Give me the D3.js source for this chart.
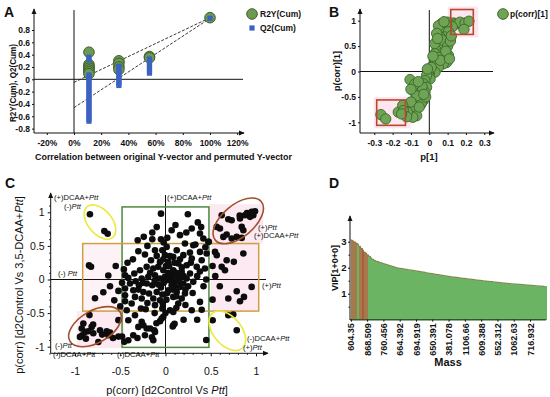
<!DOCTYPE html>
<html><head><meta charset="utf-8">
<script src="https://cdn.jsdelivr.net/npm/d3@7"></script>
<style>body{margin:0;background:#fff}svg{display:block}text{font-family:"Liberation Sans",Arial,sans-serif}</style>
</head><body><svg id="c" width="550" height="397"></svg>
<script>
// ---------------- DATA ----------------
// Panel A: permutation test
const aXTicks = [-0.2,0,0.2,0.4,0.6,0.8,1.0,1.2];
const aXTickLabels = ["-20%","0%","20%","40%","60%","80%","100%","120%"];
const aYTicks = [-0.8,-0.6,-0.4,-0.2,0,0.2,0.4,0.6,0.8];
const aYTickLabels = ["-0.8","-0.6","-0.4","-0.2","0","0.2","0.4","0.6","0.8"];
const r2yPts = [[0.11,0.44],[0.11,0.24],[0.11,0.21],[0.11,0.18],[0.11,0.15],[0.11,0.12],[0.11,0.09],
  [0.33,0.30],[0.33,0.26],[0.33,0.20],[0.33,0.16],[0.555,0.37],[0.555,0.35],[1.0,1.0]];
const q2Pts = [[0.11,0.36],[0.11,0.32],[0.11,0.07],[0.11,0.03],[0.11,-0.01],[0.11,-0.05],[0.11,-0.09],[0.11,-0.13],
  [0.11,-0.17],[0.11,-0.21],[0.11,-0.25],[0.11,-0.29],[0.11,-0.33],[0.11,-0.37],[0.11,-0.41],[0.11,-0.45],
  [0.11,-0.49],[0.11,-0.53],[0.11,-0.57],[0.11,-0.61],[0.11,-0.65],[0.11,-0.68],
  [0.33,0.21],[0.33,0.17],[0.33,0.13],[0.33,0.09],[0.33,0.05],[0.33,0.01],[0.33,-0.03],[0.33,-0.07],[0.33,-0.1],
  [0.555,0.33],[0.555,0.29],[0.555,0.25],[0.555,0.21],[0.555,0.17],[0.555,0.13],[0.555,0.10],[1.0,0.99]];
const r2yFit = [[0,-0.05],[1,1.0]];
const q2Fit = [[0,-0.46],[1,0.99]];

// Panel B: S-plot
const bXTicks = [-0.3,-0.2,-0.1,0,0.1,0.2,0.3];
const bXTickLabels = ["-0.3","-0.2","-0.1","0","0.1","0.2","0.3"];
const bYTicks = [-1,-0.5,0,0.5,1];
const bYTickLabels = ["-1","-0.5","0","0.5","1"];
const sPlot = [[0.113,0.91],[0.131,0.954],[0.149,0.94],[0.167,0.97],[0.195,0.954],[0.216,0.99],[0.189,0.83],[0.10,0.97],[0.125,0.88],
  [0.067,0.94],[0.058,0.84],[0.076,0.875],[0.095,0.91],[0.085,0.81],[0.067,0.78],[0.104,0.78],[0.085,0.68],[0.058,0.68],
  [0.058,0.58],[0.085,0.58],[0.076,0.48],[0.049,0.48],[0.04,0.41],[0.067,0.35],[0.031,0.35],[0.104,0.32],[0.049,0.28],
  [0.031,0.22],[0.095,0.18],[0.076,0.15],[0.022,0.12],[0.049,0.085],[0.013,0.02],[0.031,-0.013],[0.05,0.9],[0.04,0.75],
  [0.07,0.62],[0.03,0.55],[0.1,0.5],[0.09,0.4],[0.06,0.22],[0.02,0.3],[0.11,0.25],[0.08,0.98],[0.045,0.65],[0.115,0.6],[0.12,0.7],
  [0.0,-0.05],[-0.005,-0.01],[0.004,-0.145],[-0.015,-0.08],[-0.024,-0.18],[0.01,0.08],[-0.01,0.05],
  [-0.033,-0.24],[-0.064,-0.31],[-0.015,-0.31],[-0.051,-0.375],[-0.078,-0.41],[-0.024,-0.41],[-0.042,-0.44],[-0.06,-0.51],
  [-0.078,-0.57],[-0.033,-0.57],[-0.045,-0.64],[-0.096,-0.7],[-0.115,-0.7],[-0.087,-0.77],[-0.069,-0.87],[-0.105,-0.16],
  [-0.04,-0.3],[-0.07,-0.48],[-0.1,-0.6],[-0.02,-0.5],[-0.055,-0.7],[-0.09,-0.9],[-0.12,-0.8],[-0.03,-0.45],[-0.08,-0.25],
  [-0.06,-0.2],[-0.1,-0.35],
  [-0.264,-0.849],[-0.238,-0.934],[-0.169,-0.8],[-0.145,-0.67],[-0.142,-0.77],[-0.124,-0.89],[-0.151,-0.835]];
const bBoxes = [[[0.117,1.22],[0.24,0.73]],[[-0.287,-0.56],[-0.13,-1.06]]];

// Panel C: SUS-plot
const cTicks = [-1,-0.5,0,0.5,1];
const cTickLabels = ["-1","-0.5","0","0.5","1"];
const cMinor = [-1.2,-1.1,-0.9,-0.8,-0.7,-0.6,-0.4,-0.3,-0.2,-0.1,0.1,0.2,0.3,0.4,0.6,0.7,0.8,0.9,1.1];
const susPts = [[-0.835,0.97],[-0.676,0.72],[-0.639,0.68],
  [-0.845,0.21],[-0.823,0.19],[-0.55,0.20],[-0.632,0.06],[-0.613,-0.1],[-0.687,-0.19],[-0.52,-0.17],[-0.779,-0.28],[-0.566,-0.31],
  [-0.908,-0.655],[-0.926,-0.73],[-0.89,-0.78],[-0.919,-0.83],[-0.853,-0.77],[-0.816,-0.705],[-0.798,-0.8],[-0.724,-0.755],
  [-0.742,-0.93],[-0.65,-0.77],[-0.632,-0.83],[-0.613,-0.79],[-0.52,-0.605],[-0.945,-0.854],[-0.84,-0.53],[-0.8,-0.67],
  [-0.52,-0.85],[-0.58,-0.87],[-0.88,-0.88],[-0.7,-0.82],
  [-0.05,0.98],[-0.097,0.78],[-0.146,0.7],[-0.307,0.585],[-0.146,0.6],[-0.116,0.436],[-0.035,0.436],[-0.227,0.372],
  [-0.097,0.351],[-0.006,0.362],[-0.16,0.287],[-0.061,0.262],[-0.447,0.064],[-0.411,0.024],[-0.345,0.089],[-0.282,0.138],
  [-0.208,0.188],[-0.135,0.164],[-0.08,0.188],[-0.024,0.138],[-0.33,-0.025],[-0.263,0.015],[-0.19,0.039],[-0.116,0.064],
  [-0.061,0.015],[-0.006,0.039],[-0.392,-0.06],[-0.293,-0.085],[-0.208,-0.06],[-0.146,-0.085],[-0.08,-0.074],[-0.447,-0.134],
  [-0.356,-0.159],[-0.245,-0.185],[-0.182,-0.208],[-0.097,-0.185],[-0.035,-0.223],[-0.447,-0.234],[-0.337,-0.259],
  [-0.263,-0.283],[-0.135,-0.283],[-0.061,-0.308],[-0.447,-0.323],[-0.374,-0.357],[-0.271,-0.432],[-0.219,-0.442],
  [-0.116,-0.382],[-0.035,-0.432],[-0.429,-0.457],[-0.337,-0.531],[-0.411,-0.606],[-0.263,-0.631],[-0.208,-0.73],[-0.3,-0.705],
  [-0.356,-0.829],[-0.124,-0.755],[-0.227,-0.829],[-0.411,-0.903],[-0.455,-0.928],[-0.135,-0.903],[-0.024,-0.556],
  [-0.24,0.635],[-0.42,0.25],[-0.36,0.3],[-0.3,0.42],[-0.2,0.5],[-0.05,0.6],[-0.25,-0.05],[-0.17,0.1],[-0.12,-0.02],
  [-0.05,-0.12],[-0.3,-0.15],[-0.2,-0.35],[-0.12,-0.5],[-0.06,-0.62],[-0.1,-0.65],[-0.48,-0.05],[-0.46,0.15],[-0.5,-0.4],
  [-0.48,-0.85],[-0.31,-0.87],[-0.15,-0.86],[-0.245,-0.68],[-0.17,-0.73],[0.086,-0.68],[-0.116,-0.78],
  [0.068,0.734],[0.16,0.66],[0.29,0.76],[0.381,0.685],[0.418,0.61],[0.473,0.56],[0.215,0.536],[0.307,0.51],[0.013,0.485],
  [0.124,0.436],[0.381,0.411],[0.455,0.387],[-0.024,0.3],[0.086,0.336],[0.197,0.362],[0.29,0.312],[0.4,0.287],[0.031,0.262],
  [0.141,0.238],[0.234,0.213],[0.345,0.188],[0.436,0.164],[0.005,0.2],[0.086,0.138],[0.179,0.113],[0.271,0.089],[0.05,0.064],
  [0.141,0.039],[0.234,0.015],[0.013,-0.01],[0.105,-0.035],[0.197,-0.06],[0.307,-0.035],[0.068,-0.085],[0.16,-0.11],
  [0.031,-0.159],[0.124,-0.185],[0.215,-0.208],[0.086,-0.259],[0.179,-0.283],[0.01,-0.3],[0.381,-0.333],[0.141,-0.357],
  [-0.03,-0.36],[0.05,-0.457],[0.086,-0.482],[0.0,-0.5],[0.29,-0.457],[-0.042,-0.58],
  [0.247,0.97],[0.357,0.85],[0.394,0.78],[0.11,0.81],[0.479,0.56],
  [0.03,0.1],[0.08,0.05],[0.12,0.1],[0.06,-0.02],[0.1,-0.1],[0.15,-0.02],[0.2,0.05],[0.25,-0.1],[0.04,0.2],[0.1,0.25],
  [0.18,0.18],[-0.02,-0.05],[0.02,-0.2],[0.08,-0.15],[0.12,-0.25],[0.22,-0.15],[0.3,-0.2],[0.35,0.05],[0.42,-0.1],[0.45,0.0],
  [0.38,0.12],[0.28,0.25],[0.05,0.35],[0.16,0.3],[0.12,-0.42],[0.22,-0.38],[0.4,-0.45],[0.08,-0.7],[0.1,-0.66],[0.2,-0.6],
  [0.35,-0.6],[0.45,-0.9],[0.33,0.52],[0.44,0.48],[0.02,0.62],[-0.02,0.55],[0.23,0.7],[0.27,0.4],
  [0.547,0.411],[0.621,0.188],[0.657,0.138],[0.676,0.287],[0.86,0.387],[0.755,0.263],[0.566,0.362],[0.52,0.2],[0.55,0.05],
  [0.694,-0.283],[0.787,-0.174],[0.823,-0.323],[0.867,-0.259],[0.952,-0.11],[0.6,-0.1],[0.52,-0.3],
  [0.521,-0.606],[0.694,-0.531],[0.749,-0.521],[0.787,-0.755],
  [0.621,0.957],[0.694,0.897],[0.731,0.882],[0.823,0.907],[0.878,0.957],[0.915,0.982],[0.952,1.006],[0.97,0.957],
  [0.934,0.932],[0.989,1.016],[0.842,0.783],[0.86,0.734],[0.602,0.759],[0.639,0.634],[0.731,0.61],[0.787,0.634],
  [0.842,0.619],[0.566,0.783],[0.676,0.67],[0.9,0.99],[0.82,0.95]];

// Panel D: VIP
const vipValues = [3.07,3.03,3.0,2.95,2.9,2.82,2.75,2.68,2.6,2.55,2.5,2.44,
  2.38,2.33,2.29,2.26,2.24,2.22,2.2,2.18,2.16,2.14,2.12,2.1,
  2.08,2.06,2.04,2.02,2.0,1.99,1.98,1.97,1.96,1.95,1.94,1.93,
  1.92,1.91,1.9,1.89,1.88,1.87,1.86,1.85,1.84,1.83,1.81,1.8,
  1.79,1.78,1.77,1.76,1.75,1.74,1.73,1.72,1.71,1.7,1.69,1.68,
  1.67,1.66,1.65,1.645,1.64,1.63,1.62,1.61,1.6,1.595,1.59,1.58,
  1.57,1.565,1.56,1.55,1.54,1.53,1.525,1.52,1.51,1.5,1.495,1.49,
  1.48,1.475,1.47,1.46,1.455,1.45,1.44,1.435,1.43,1.42,1.415,1.41,
  1.4,1.395,1.39,1.385,1.38,1.375,1.37,1.365,1.36,1.355,1.35,1.345,
  1.34,1.335,1.33,1.325,1.32,1.315,1.31,1.305,1.3,1.295,1.29,1.28];
const vipBrown = [0,1,2,3,5,6,8,9,10];
const vipRed = [7];
const massTickIdx = [0,10,20,30,40,50,60,70,80,90,100,110];
const massLabels = ["604.35","868.509","760.456","664.392","694.919","650.391","381.078","1106.66","609.388","552.312","1062.63","716.932"];
const dYTicks = [1,2,3];
const dYMinor = [0.5,1.5,2.5];

// ---------------- DRAW ----------------
const svg = d3.select("#c");
svg.append("rect").attr("width",550).attr("height",397).attr("fill","#fff");
const defs = svg.append("defs");
defs.append("marker").attr("id","arr").attr("viewBox","0 0 8 8").attr("refX",7).attr("refY",4)
  .attr("markerWidth",6).attr("markerHeight",6).attr("markerUnits","userSpaceOnUse").attr("orient","auto")
  .append("path").attr("d","M0,0.5L8,4L0,7.5z").attr("fill","#111");

function line(g,x1,y1,x2,y2,arrow,stroke,w){
  const l=g.append("line").attr("x1",x1).attr("y1",y1).attr("x2",x2).attr("y2",y2)
    .attr("stroke",stroke||"#111").attr("stroke-width",w||1);
  if(arrow) l.attr("marker-end","url(#arr)");
  return l;
}
function axis(g, gen, vals, labels, o){
  gen.tickValues(vals).tickSize(o.size).tickPadding(o.pad).tickFormat((d,i)=>labels?labels[i]:"");
  const s = g.append("g").attr("transform",o.tr).call(gen);
  s.select(".domain").remove();
  s.selectAll(".tick line").attr("stroke","#111");
  s.selectAll(".tick text").attr("font-size",o.fs||9).attr("font-weight",o.fw||"normal")
    .attr("fill","#111").attr("font-family","Liberation Sans, Arial, sans-serif");
  return s;
}
function txt(g,x,y,t,o){
  o=o||{};
  const e=g.append("text").attr("x",x).attr("y",y).text(t).attr("font-size",o.fs||9)
   .attr("font-weight",o.fw||"normal").attr("fill","#111").attr("text-anchor",o.anchor||"start");
  if(o.rot) e.attr("transform",`rotate(${o.rot},${x},${y})`);
  if(o.len) e.attr("textLength",o.len).attr("lengthAdjust","spacingAndGlyphs");
  return e;
}

// ===== Panel A =====
const gA = svg.append("g");
const xA = d3.scaleLinear().domain([0,1]).range([74,210]);
const yA = d3.scaleLinear().domain([-0.8,0.8]).range([128.6,30]);
txt(gA,4,17,"A",{fs:14,fw:"bold"});
line(gA,34,yA(0),243,yA(0));
line(gA,xA(0),10,xA(0),133);
line(gA,34,133,34,9,true);
line(gA,34,133,244,133,true);
axis(gA,d3.axisLeft(yA),aYTicks,aYTickLabels,{size:2,pad:2,tr:"translate(34,0)",fs:8.5,fw:"bold"});
axis(gA,d3.axisBottom(xA),aXTicks,aXTickLabels,{size:2,pad:5,tr:"translate(0,133)",fs:8.5,fw:"bold"});
const fitLine = d3.line().x(d=>xA(d[0])).y(d=>yA(d[1]));
[r2yFit,q2Fit].forEach(f=>gA.append("path").attr("d",fitLine(f)).attr("fill","none")
  .attr("stroke","#222").attr("stroke-width",0.9).attr("stroke-dasharray","3,1.6"));
gA.selectAll("circle.r2").data(r2yPts).join("circle").attr("cx",d=>xA(d[0])).attr("cy",d=>yA(d[1]))
  .attr("r",5.3).attr("fill","#6c9a52").attr("stroke","#3e5f2e").attr("stroke-width",1);
gA.selectAll("rect.q2").data(q2Pts).join("rect").attr("x",d=>xA(d[0])-2.6).attr("y",d=>yA(d[1])-2.6)
  .attr("width",5.2).attr("height",5.2).attr("fill","#3c62c2");
gA.append("circle").attr("cx",252).attr("cy",14).attr("r",5.3).attr("fill","#6c9a52").attr("stroke","#3e5f2e");
txt(gA,260,17.3,"R2Y(Cum)",{fs:8.5,fw:"bold"});
gA.append("rect").attr("x",249.4).attr("y",25.4).attr("width",5.2).attr("height",5.2).attr("fill","#3c62c2");
txt(gA,260,31,"Q2(Cum)",{fs:8.5,fw:"bold"});
txt(gA,16,83,"R2Y(Cum), Q2(Cum)",{fs:8.5,fw:"bold",anchor:"middle",rot:-90,len:78});
txt(gA,35,159.5,"Correlation between original Y-vector and permuted Y-vector",{fs:9.5,fw:"bold",len:257});

// ===== Panel B =====
const gB = svg.append("g");
const xB = d3.scaleLinear().domain([-0.3,0.3]).range([374.3,484.3]);
const yB = d3.scaleLinear().domain([-1,1]).range([122.3,20.7]);
txt(gB,329,17,"B",{fs:14,fw:"bold"});
bBoxes.forEach(b=>{
  gB.append("rect").attr("x",xB(b[0][0])-3).attr("y",yB(b[0][1])-3)
    .attr("width",xB(b[1][0])-xB(b[0][0])+8).attr("height",yB(b[1][1])-yB(b[0][1])+6).attr("fill","#fde6ef");
});
line(gB,360,yB(0),493,yB(0));
line(gB,xB(0),10,xB(0),133);
line(gB,360,133,360,9,true);
line(gB,360,133,494,133,true);
axis(gB,d3.axisLeft(yB),bYTicks,bYTickLabels,{size:2,pad:2,tr:"translate(360,0)",fs:8.5,fw:"bold"});
axis(gB,d3.axisBottom(xB),bXTicks,bXTickLabels,{size:2,pad:5,tr:"translate(0,133)",fs:8.5,fw:"bold"});
gB.selectAll("circle.s").data(sPlot).join("circle").attr("cx",d=>xB(d[0])).attr("cy",d=>yB(d[1]))
  .attr("r",5.2).attr("fill","#6fa456").attr("stroke","#3a6628").attr("stroke-width",0.9);
bBoxes.forEach(b=>{
  gB.append("rect").attr("x",xB(b[0][0])).attr("y",yB(b[0][1]))
    .attr("width",xB(b[1][0])-xB(b[0][0])).attr("height",yB(b[1][1])-yB(b[0][1]))
    .attr("fill","none").attr("stroke","#b8482a").attr("stroke-width",1.6);
});
gB.append("circle").attr("cx",503).attr("cy",14).attr("r",5.3).attr("fill","#6fa456").attr("stroke","#3a6628");
txt(gB,510,17.3,"p(corr)[1]",{fs:8.5,fw:"bold"});
txt(gB,340,71,"p(corr)[1]",{fs:9,fw:"bold",anchor:"middle",rot:-90});
txt(gB,429,160,"p[1]",{fs:9.5,fw:"bold",anchor:"middle"});

// ===== Panel C =====
const gC = svg.append("g");
const xC = d3.scaleLinear().domain([-1,1]).range([75,256]);
const yC = d3.scaleLinear().domain([-1,1]).range([346.7,212.3]);
txt(gC,5,188,"C",{fs:14,fw:"bold"});
// pink shading
[[[0.48,1.12],[1.08,0.535]],[[0.5,0.535],[1.03,-0.47]],[[-0.98,-0.47],[-0.46,-1.02]],[[-0.915,0.535],[-0.48,-0.47]]].forEach((r,i)=>{
  gC.append("rect").attr("x",xC(r[0][0])).attr("y",yC(r[0][1])).attr("width",xC(r[1][0])-xC(r[0][0]))
   .attr("height",yC(r[1][1])-yC(r[0][1])).attr("fill",i==3?"#fdf3f7":"#fde9f1");
});
line(gC,50.7,yC(0),266,yC(0));
line(gC,xC(0),195,xC(0),353.3);
line(gC,50.7,353.3,50.7,193,true);
line(gC,50.7,353.3,268,353.3,true);
axis(gC,d3.axisLeft(yC),cTicks,cTickLabels,{size:3,pad:3,tr:"translate(50.7,0)",fs:10.5});
axis(gC,d3.axisLeft(yC),cMinor.filter(v=>v>=-1.15&&v<=1.1),null,{size:1.5,pad:0,tr:"translate(50.7,0)"});
axis(gC,d3.axisBottom(xC),cTicks,cTickLabels,{size:3,pad:11,tr:"translate(0,353.3)",fs:10.5});
axis(gC,d3.axisBottom(xC),cMinor,null,{size:1.5,pad:0,tr:"translate(0,353.3)"});
// boxes
gC.append("rect").attr("x",xC(-0.48)).attr("y",yC(1.08)).attr("width",xC(0.48)-xC(-0.48)).attr("height",yC(-1.01)-yC(1.08))
  .attr("fill","none").attr("stroke","#4b8a3c").attr("stroke-width",1.5);
gC.append("rect").attr("x",xC(-0.915)).attr("y",yC(0.535)).attr("width",xC(1.03)-xC(-0.915)).attr("height",yC(-0.47)-yC(0.535))
  .attr("fill","none").attr("stroke","#cf9f42").attr("stroke-width",1.5);
gC.selectAll("circle.d").data(susPts).join("circle").attr("cx",d=>xC(d[0])).attr("cy",d=>yC(d[1]))
  .attr("r",3.3).attr("fill","#0d0d0d");
// ellipses
[[-0.724,0.856,20,12,50,"#eaea3c"],[0.804,0.873,30,16,-40,"#a2502e"],[-0.779,-0.702,29,16,-30,"#a2502e"],[0.683,-0.763,23,14,50,"#eaea3c"]]
 .forEach(e=>{
  const cx=xC(e[0]), cy=yC(e[1]);
  gC.append("ellipse").attr("cx",cx).attr("cy",cy).attr("rx",e[2]).attr("ry",e[3])
   .attr("transform",`rotate(${e[4]},${cx},${cy})`).attr("fill","none").attr("stroke",e[5]).attr("stroke-width",1.6);
 });
function lab(x,y,pre){
  const t=gC.append("text").attr("x",x).attr("y",y).attr("font-size",7.6).attr("fill","#111");
  t.append("tspan").text(pre);
  t.append("tspan").attr("font-style","italic").text("Ptt");
}
lab(54,200,"(+)DCAA+"); lab(64,208.5,"(-)");
lab(167,200,"(+)DCAA+");
lab(258,230,"(+)"); lab(254,238,"(+)DCAA+");
lab(58,276,"(-) ");
lab(262,288,"(+)");
lab(247,341,"(-)DCAA+"); lab(243,350,"(+)");
lab(55,348,"(-)"); lab(53,356.5,"(-)DCAA+");
lab(117,356.5,"(-)DCAA+");
const xt = gC.append("text").attr("x",167).attr("y",394).attr("text-anchor","middle").attr("font-size",11).attr("fill","#111");
xt.append("tspan").text("p(corr) [d2Control Vs ");
xt.append("tspan").attr("font-style","italic").text("Ptt");
xt.append("tspan").text("]");
const yt = gC.append("text").attr("x",0).attr("y",0).attr("text-anchor","middle").attr("font-size",11).attr("fill","#111")
  .attr("transform","translate(23,285) rotate(-90)");
yt.append("tspan").text("p(corr) [d2Control Vs 3,5-DCAA+");
yt.append("tspan").attr("font-style","italic").text("Ptt");
yt.append("tspan").text("]");

// ===== Panel D =====
const gD = svg.append("g");
const xD = d3.scaleBand().domain(vipValues.map((d,i)=>i)).range([350.5,546]).padding(0);
const yD = d3.scaleLinear().domain([0,3]).range([319.7,241.7]);
txt(gD,329,188,"D",{fs:14,fw:"bold"});
gD.selectAll("rect.v").data(vipValues).join("rect")
  .attr("x",(d,i)=>xD(i)).attr("width",xD.bandwidth()+0.7).attr("y",d=>yD(d)).attr("height",d=>yD(0)-yD(d))
  .attr("shape-rendering","crispEdges")
  .attr("fill",(d,i)=>vipRed.includes(i)?"#b35a3a":vipBrown.includes(i)?"#a47a4c":"#6bb463");
gD.append("path").attr("d",d3.line().curve(d3.curveStepAfter).x((d,i)=>xD(i)).y(d=>yD(d))(vipValues))
  .attr("fill","none").attr("stroke","#8a7a4c").attr("stroke-width",0.8);
line(gD,350,319.7,546,319.7,false,"#2f5a2a",1.5);
line(gD,350,320,350,216,true);
axis(gD,d3.axisLeft(yD),dYTicks,dYTicks.map(String),{size:2,pad:1.5,tr:"translate(350,0)",fs:9.5,fw:"bold"});
axis(gD,d3.axisLeft(yD),dYMinor,null,{size:1.5,pad:0,tr:"translate(350,0)"});
const ax = axis(gD,d3.axisBottom(xD),massTickIdx,massLabels,{size:2,pad:3,tr:"translate(0,319.7)",fs:9,fw:"bold"});
ax.selectAll(".tick text").attr("transform","rotate(-90)").attr("text-anchor","end").attr("x",-3.5).attr("y",0).attr("dy","0.35em");
txt(gD,448,366,"Mass",{fs:11,fw:"bold",anchor:"middle"});
txt(gD,338,268,"VIP[1+0+0]",{fs:9,fw:"bold",anchor:"middle",rot:-90});
</script></body></html>
